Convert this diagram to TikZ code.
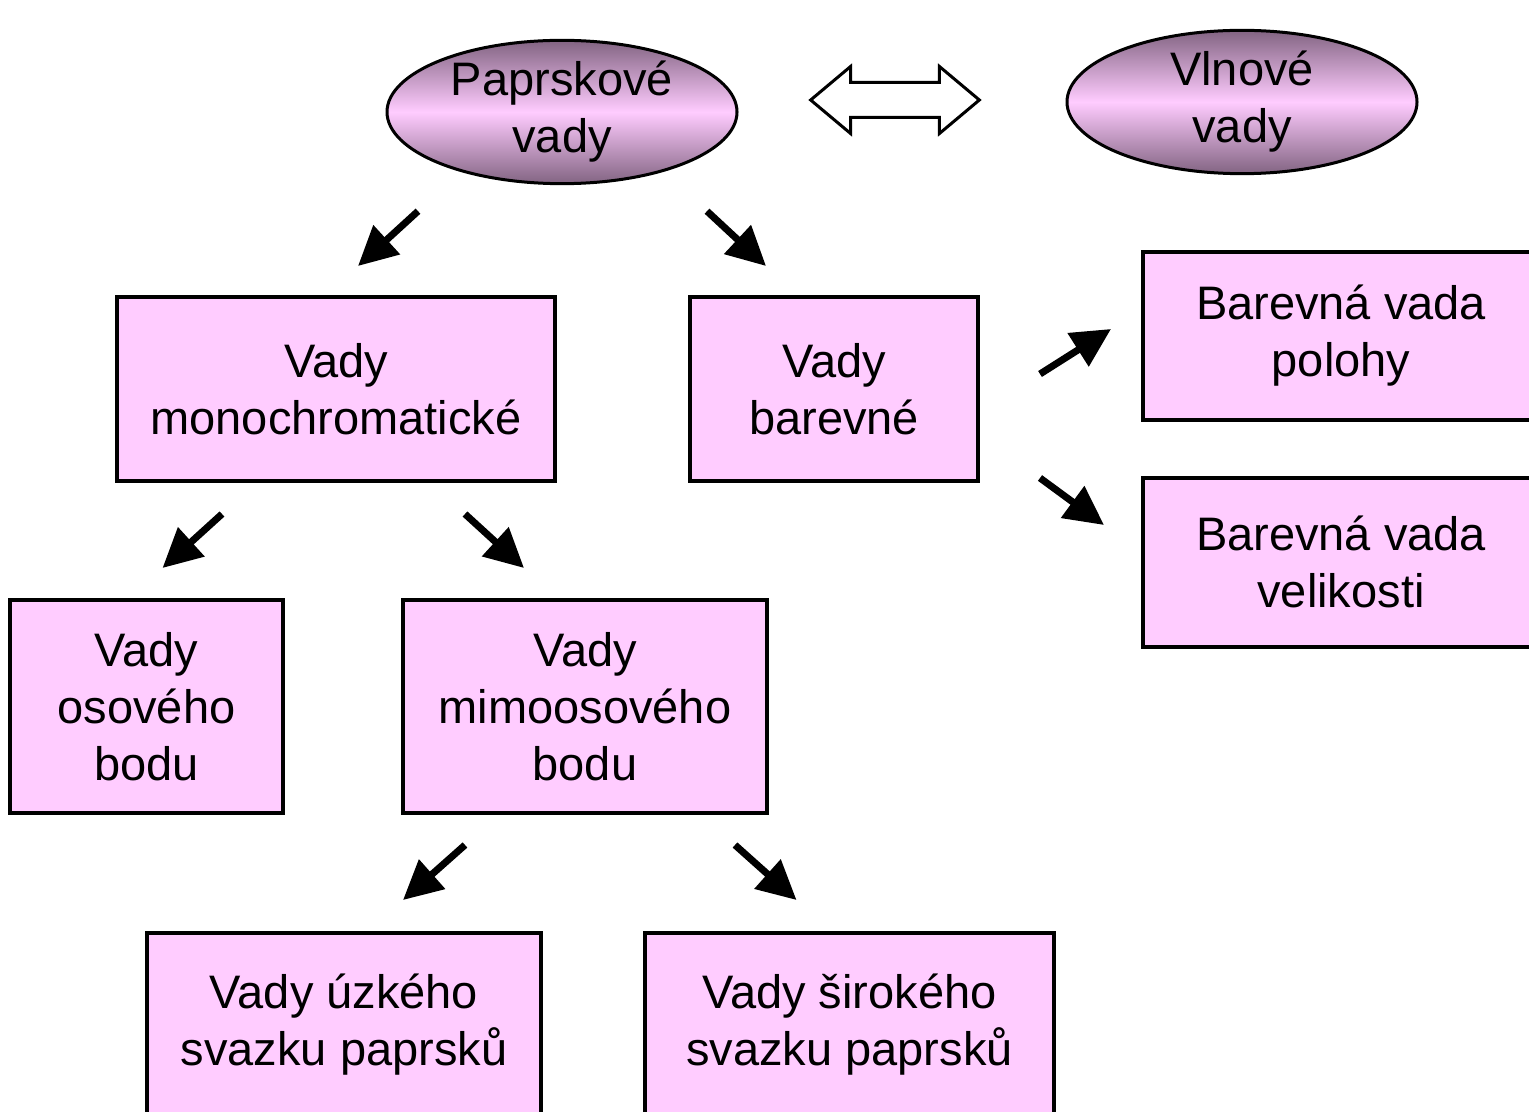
\documentclass[tikz,border=0pt]{standalone}
\usepackage{fontspec}
\setmainfont{Liberation Sans}
\usetikzlibrary{shapes.geometric,shapes.arrows,arrows.meta}
\definecolor{vadafill}{RGB}{255,204,255}
\definecolor{vadadark}{RGB}{130,100,130}
\tikzset{
    vadabox/.style={draw,line width=2pt,fill=vadafill,align=center,inner sep=0pt},
    vadaoval/.style={ellipse,draw,line width=1.5pt,top color=vadadark,bottom color=vadadark,middle color=vadafill,
        align=center,inner sep=0pt,minimum width=175pt,minimum height=70pt},
    vadaarrow/.style={line width=3.5pt,-{Triangle[length=19.5pt,width=19pt]}},
}
\begin{document}
\begin{tikzpicture}[x=0.5pt,y=-0.5pt,font=\fontsize{23.5}{28.5}\selectfont]
                \useasboundingbox (0,0) rectangle (1529,1112);
                \clip (0,0) rectangle (1529,1112);
                \node[vadaoval] (pap) at (562,112) {Paprskové\\vady};
                \node[vadaoval] (vln) at (1242,102) {Vlnové\\vady};
                \node[double arrow,draw,fill=white,line width=1.5pt,inner xsep=31pt,inner ysep=8pt,
                    double arrow head extend=8pt,double arrow tip angle=80] (dbl) at (895,100) {};
                \node[vadabox,minimum width=219pt,minimum height=92pt] (mono) at (336,389) {Vady\\monochromatické};
                \node[vadabox,minimum width=144pt,minimum height=92pt] (bar) at (834,389) {Vady\\barevné};
                \node[vadabox,minimum width=198pt,minimum height=84pt] (pol) at (1341,336) {Barevná vada\\polohy};
                \node[vadabox,minimum width=198pt,minimum height=84.5pt] (vel) at (1341,562) {Barevná vada\\velikosti};
                \node[vadabox,minimum width=136.5pt,minimum height=106.5pt] (osv) at (146.5,706.5) {Vady\\osového\\bodu};
                \node[vadabox,minimum width=182pt,minimum height=106.5pt] (mim) at (585,706.5) {Vady\\mimoosového\\bodu};
                \node[vadabox,minimum width=197pt,minimum height=92pt] (uzk) at (344,1025) {Vady úzkého\\svazku paprsků};
                \node[vadabox,minimum width=204.5pt,minimum height=92pt] (sir) at (849.5,1025) {Vady širokého\\svazku paprsků};
                \draw[vadaarrow] ([shift={(-144,26)}]pap.south) -- ([shift={(22,-29)}]mono.north);
                \draw[vadaarrow] ([shift={(145,26)}]pap.south) -- ([shift={(-68,-29)}]bar.north);
                \draw[vadaarrow] ([shift={(60,-15)}]bar.east) -- ([shift={(-30,-7)}]pol.west);
                \draw[vadaarrow] ([shift={(60,89)}]bar.east) -- ([shift={(-37,-37)}]vel.west);
                \draw[vadaarrow] ([shift={(-114,31)}]mono.south) -- ([shift={(16,-30)}]osv.north);
                \draw[vadaarrow] ([shift={(129,31)}]mono.south) -- ([shift={(-61,-30)}]mim.north);
                \draw[vadaarrow] ([shift={(-120,30)}]mim.south) -- ([shift={(59,-31)}]uzk.north);
                \draw[vadaarrow] ([shift={(150,30)}]mim.south) -- ([shift={(-53,-31)}]sir.north);
            \end{tikzpicture}
\end{document}
